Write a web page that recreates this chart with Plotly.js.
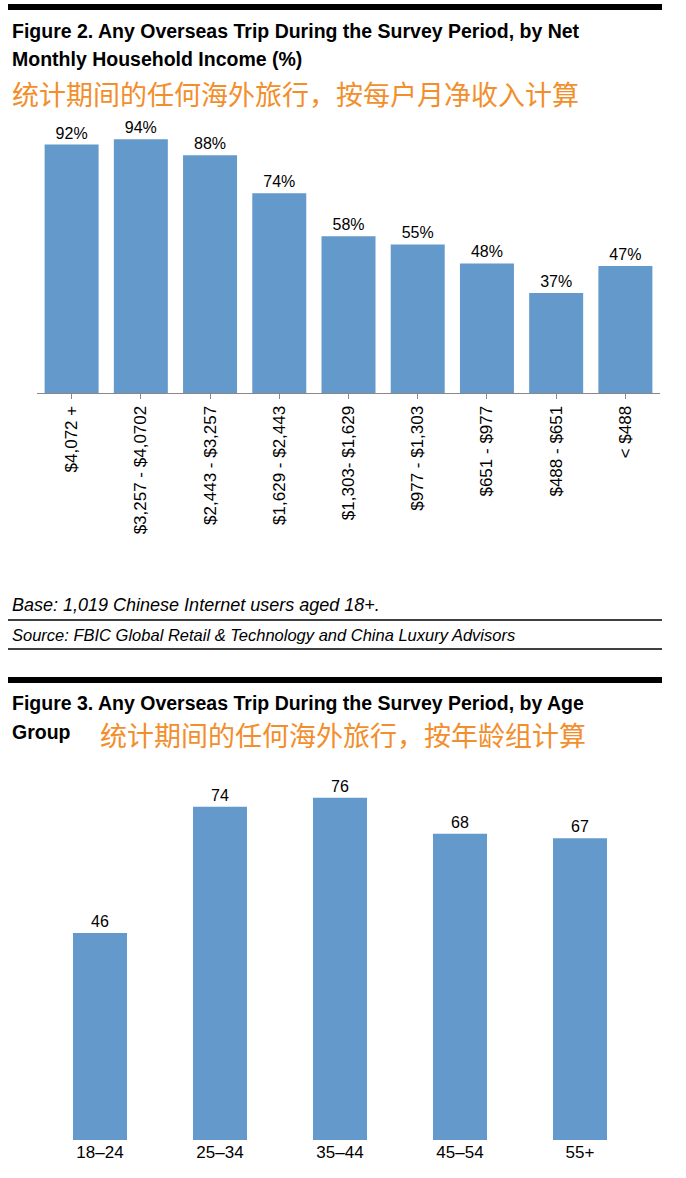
<!DOCTYPE html>
<html>
<head>
<meta charset="utf-8">
<script src="https://cdn.plot.ly/plotly-3.0.1.min.js"></script>
<style>body{margin:0;background:#fff}#chart{width:686px;height:1178px}</style>
</head>
<body>
<div id="chart"></div>
<script>
// figure 2: by income
const incomeCats = ["$4,072 +", "$3,257 - $4,0702", "$2,443 - $3,257", "$1,629 - $2,443",
    "$1,303- $1,629", "$977 - $1,303", "$651 - $977", "$488 - $651", "< $488"];
const incomeVals = [92, 94, 88, 74, 58, 55, 48, 37, 47];

// figure 3: by age
const ageCats = ["18–24", "25–34", "35–44", "45–54", "55+"];
const ageVals = [46, 74, 76, 68, 67];

const H = 1178, W = 686;
const py = p => 1 - p / H;
const px = p => p / W;

const barColor = "#6399cb";
const font = "Liberation Sans, Arial, sans-serif";
const cjk = "Noto Sans CJK SC, sans-serif";
const orange = "#f28e2b";

const traces = [{
    type: "bar", x: incomeCats, y: incomeVals, xaxis: "x", yaxis: "y",
    marker: {color: barColor},
    text: incomeVals.map(v => v + "%"), textposition: "outside",
    textfont: {size: 16, color: "#000", family: font}, cliponaxis: false
}, {
    type: "bar", x: ageCats, y: ageVals, xaxis: "x2", yaxis: "y2",
    marker: {color: barColor}, width: 0.45,
    text: ageVals.map(v => String(v)), textposition: "outside",
    textfont: {size: 16, color: "#000", family: font}, cliponaxis: false
}];

function note(text, x, y, size, opts) {
    return Object.assign({
        text: text, xref: "paper", yref: "paper", x: px(x), y: py(y),
        xanchor: "left", yanchor: "middle", showarrow: false,
        font: {size: size, family: font, color: "#000"}
    }, opts || {});
}

const annotations = [
    note("<b>Figure 2. Any Overseas Trip During the Survey Period, by Net</b>", 10, 31, 19.5),
    note("<b>Monthly Household Income (%)</b>", 10, 59, 19.5),
    note("统计期间的任何海外旅行，按每户月净收入计算", 10, 93, 27, {font: {size: 27, family: cjk, color: orange}}),
    note("<i>Base: 1,019 Chinese Internet users aged 18+.</i>", 10, 605, 18),
    note("<i>Source: FBIC Global Retail &amp; Technology and China Luxury Advisors</i>", 10, 635, 16.5),
    note("<b>Figure 3. Any Overseas Trip During the Survey Period, by Age</b>", 10, 703, 19.5),
    note("<b>Group</b>", 10, 732, 19.5),
    note("统计期间的任何海外旅行，按年龄组计算", 98, 735, 27, {font: {size: 27, family: cjk, color: orange}})
];

const shapes = [
    {type: "line", xref: "paper", yref: "paper", x0: px(8), x1: px(662), y0: py(7), y1: py(7), line: {color: "#000", width: 6}},
    {type: "line", xref: "paper", yref: "paper", x0: px(8), x1: px(662), y0: py(620), y1: py(620), line: {color: "#000", width: 1.5}},
    {type: "line", xref: "paper", yref: "paper", x0: px(8), x1: px(662), y0: py(649), y1: py(649), line: {color: "#000", width: 1.5}},
    {type: "line", xref: "paper", yref: "paper", x0: px(8), x1: px(662), y0: py(680), y1: py(680), line: {color: "#000", width: 6}}
];

const layout = {
    width: W, height: H, margin: {l: 0, r: 0, t: 0, b: 0},
    paper_bgcolor: "#fff", plot_bgcolor: "#fff", showlegend: false,
    font: {family: font, color: "#000"},
    xaxis: {domain: [px(37), px(660)], anchor: "y", tickangle: -90, tickfont: {size: 17},
        showline: true, linecolor: "#888", linewidth: 1, ticks: "outside", ticklen: 5, tickcolor: "#888"},
    yaxis: {domain: [py(393), py(100)], range: [0, 108.5], visible: false, anchor: "x"},
    xaxis2: {domain: [px(40), px(640)], anchor: "y2", tickfont: {size: 17}, showline: false},
    yaxis2: {domain: [py(1140), py(760)], range: [0, 84.4], visible: false, anchor: "x2"},
    bargap: 0.22,
    annotations: annotations, shapes: shapes
};

Plotly.newPlot("chart", traces, layout, {staticPlot: true});
</script>
</body>
</html>
